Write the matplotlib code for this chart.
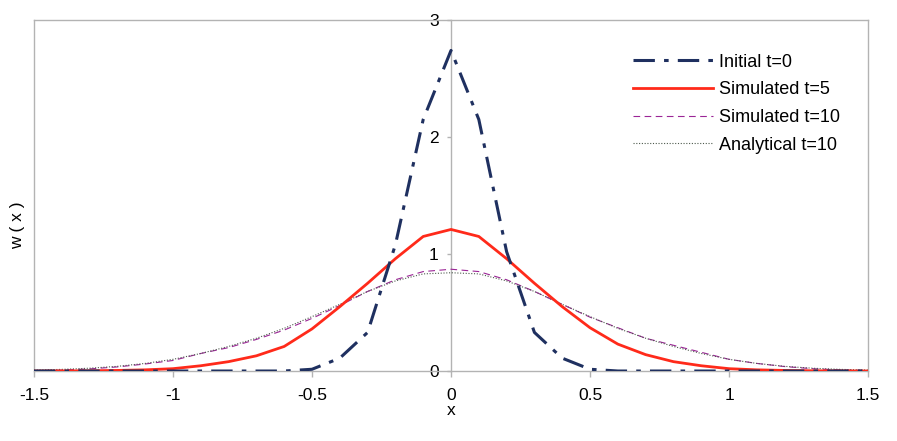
import matplotlib
matplotlib.use('Agg')
import matplotlib.pyplot as plt

plt.rcParams['font.family'] = ['Liberation Sans', 'DejaVu Sans']

# grid points
x = [-1.5, -1.4, -1.3, -1.2, -1.1, -1.0, -0.9, -0.8, -0.7, -0.6, -0.5, -0.4, -0.3, -0.2, -0.1,
     0.0, 0.1, 0.2, 0.3, 0.4, 0.5, 0.6, 0.7, 0.8, 0.9, 1.0, 1.1, 1.2, 1.3, 1.4, 1.5]

# curves
initial_t0 = [0, 0, 0, 0, 0, 0, 0, 0, 0, 0, 0.015, 0.11, 0.33, 1.08, 2.15,
              2.74, 2.15, 1.02, 0.33, 0.11, 0.015, 0, 0, 0, 0, 0, 0, 0, 0, 0, 0]
sim_t5 = [0, 0.001, 0.002, 0.005, 0.01, 0.02, 0.045, 0.08, 0.13, 0.21, 0.36, 0.55, 0.75, 0.96, 1.15,
          1.21, 1.15, 0.96, 0.75, 0.55, 0.37, 0.23, 0.14, 0.08, 0.045, 0.02, 0.01, 0.005, 0.002, 0.001, 0]
sim_t10 = [0.003, 0.008, 0.018, 0.035, 0.06, 0.09, 0.15, 0.2, 0.27, 0.35, 0.45, 0.56, 0.68, 0.78, 0.85,
           0.87, 0.85, 0.78, 0.68, 0.57, 0.46, 0.37, 0.28, 0.22, 0.16, 0.1, 0.065, 0.038, 0.02, 0.009, 0.004]
analytic_t10 = [0.008, 0.014, 0.024, 0.04, 0.065, 0.1, 0.15, 0.21, 0.28, 0.365, 0.465, 0.57, 0.68, 0.77, 0.83,
                0.84, 0.83, 0.77, 0.68, 0.57, 0.465, 0.365, 0.28, 0.21, 0.15, 0.1, 0.065, 0.04, 0.024, 0.014, 0.008]

xticks = [-1.5, -1, -0.5, 0, 0.5, 1, 1.5]
xticklabels = ['-1.5', '-1', '-0.5', '0', '0.5', '1', '1.5']
yticks = [0, 1, 2, 3]

gray = '#b3b3b3'

fig = plt.figure(figsize=(8.97, 4.41), dpi=100)
ax = fig.add_axes([0.0379, 0.1587, 0.9298, 0.7959])

ax.plot(x, initial_t0, color='#1f3060', lw=2.2, dashes=(7, 3, 1.5, 3),
        label='Initial t=0', zorder=5)
ax.plot(x, sim_t5, color='#ff2a1a', lw=2.0, label='Simulated t=5', zorder=4)
ax.plot(x, sim_t10, color='#9b2596', lw=0.8, dashes=(6, 4), label='Simulated t=10', zorder=3)
ax.plot(x, analytic_t10, color='#4d5a4d', lw=0.8, dashes=(1, 1.5),
        label='Analytical t=10', zorder=3)

ax.set_xlim(-1.5, 1.5)
ax.set_ylim(0, 3)

# y axis sits at x=0, frame kept around the plot
ax.spines['left'].set_position(('data', 0))
for s in ax.spines.values():
    s.set_color(gray)
    s.set_linewidth(1)
ax.axvline(-1.5, color=gray, lw=1, clip_on=False, zorder=1)

ax.set_xticks(xticks)
ax.set_xticklabels(xticklabels)
ax.set_yticks(yticks)
ax.tick_params(axis='x', direction='out', length=4, width=1, color=gray,
               pad=8, labelsize=12.5)
ax.tick_params(axis='y', direction='out', length=3, width=1, color=gray,
               pad=6, labelsize=12.5)

ax.set_xlabel('x', fontsize=12.5, labelpad=0)
fig.text(0.02, 0.49, 'w ( x )', rotation=90, fontsize=12.5, ha='center', va='center')

ax.legend(loc='upper left', bbox_to_anchor=(0.71, 0.925), frameon=False,
          fontsize=13, handlelength=4.4, handletextpad=0.35, labelspacing=0.59,
          borderaxespad=0)

fig.savefig('out.png', dpi=100)
